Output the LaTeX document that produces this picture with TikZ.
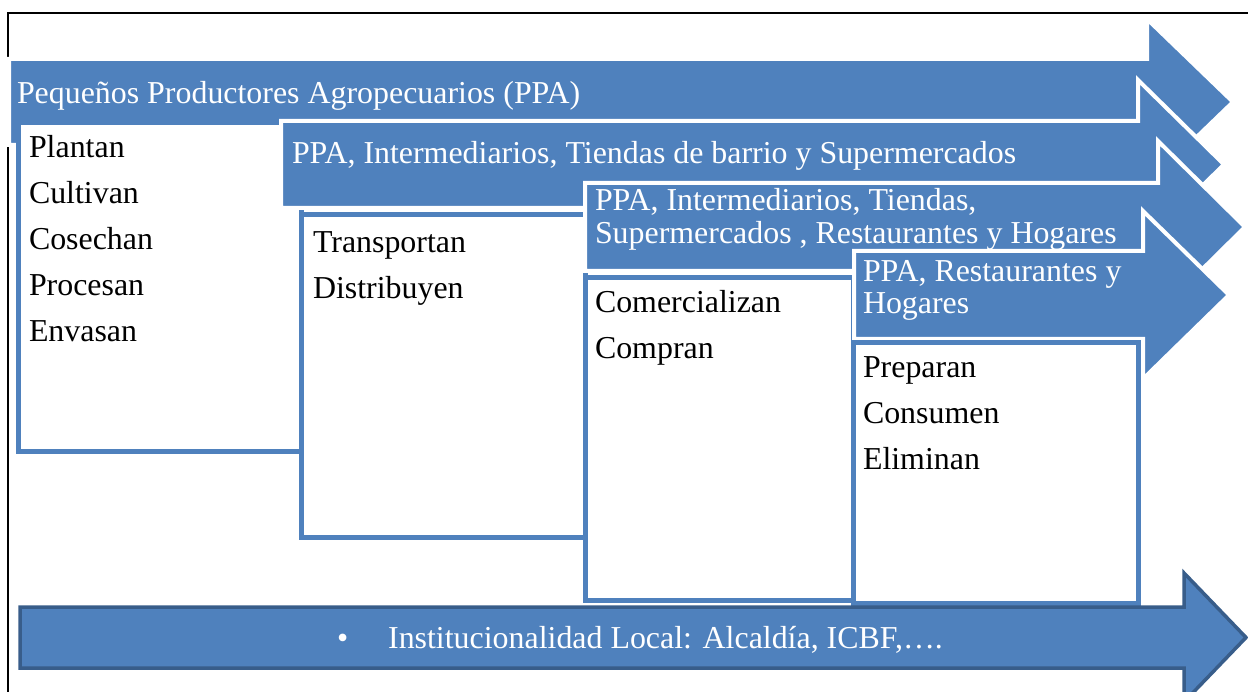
\documentclass[tikz,border=0pt]{standalone}
\usepackage{fontspec}
\setmainfont{Liberation Serif}
\definecolor{ablue}{HTML}{4F81BD}
\definecolor{dblue}{HTML}{385D8A}
\begin{document}
\begin{tikzpicture}[x=1pt,y=-1pt,
  arrowshape/.style={fill=ablue, draw=white, line width=4pt, line join=miter},
  boxshape/.style={fill=white, draw=ablue, line width=5pt},
  bigarrow/.style={fill=ablue, draw=dblue, line width=3.5pt, line join=miter},
  lbl/.style={anchor=base west, inner sep=0pt, outer sep=0pt, font=\fontsize{31.9}{33}\selectfont},
  wlbl/.style={lbl, text=white},
  blbl/.style={lbl, text=black},
]
\clip (0,0) rectangle (1248,692);
\fill[white] (0,0) rectangle (1248,692);
\draw[black, line width=2pt] (7.5,13.5) rectangle (1300,760);

% step 1
\path[arrowshape] (9,59) -- (1147,59) -- (1147,19) -- (1233,102) -- (1147,185) -- (1147,145) -- (9,145) -- cycle;
\node[wlbl] (h1) at (17,103.5) {Pequeños Productores Agropecuarios (PPA)};
\path[boxshape] (18.5,122.5) rectangle (301,452);
\node[blbl] (a1) at (29,158) {Plantan};
\node[blbl] (a2) at (29,204) {Cultivan};
\node[blbl] (a3) at (29,250) {Cosechan};
\node[blbl] (a4) at (29,296) {Procesan};
\node[blbl] (a5) at (29,342) {Envasan};

% step 2
\path[arrowshape] (281,121) -- (1138,121) -- (1138,80) -- (1224,164.5) -- (1138,249) -- (1138,208) -- (281,208) -- cycle;
\node[wlbl] (h2) at (292,164) {PPA, Intermediarios, Tiendas de barrio y Supermercados};
\path[boxshape] (301.5,214.5) rectangle (585,537.5);
\node[blbl] (b1) at (313,252.5) {Transportan};
\node[blbl] (b2) at (313,298.5) {Distribuyen};

% step 3
\path[arrowshape] (585,183) -- (1158,183) -- (1158,141) -- (1245,227) -- (1158,313) -- (1158,271) -- (585,271) -- cycle;
\node[wlbl] (h3a) at (595,211) {PPA, Intermediarios, Tiendas,};
\node[wlbl] (h3b) at (595,244) {Supermercados , Restaurantes y Hogares};
\path[boxshape] (585,277.5) rectangle (853.5,600);
\node[blbl] (c1) at (595,312.5) {Comercializan};
\node[blbl] (c2) at (595,358.5) {Compran};

% step 4
\path[arrowshape] (854,251) -- (1143,251) -- (1143,211) -- (1229,295) -- (1143,379) -- (1143,339) -- (854,339) -- cycle;
\node[wlbl] (h4a) at (863,282) {PPA, Restaurantes y};
\node[wlbl] (h4b) at (863,314) {Hogares};
\path[boxshape] (853.5,342.5) rectangle (1138.5,603.5);
\node[blbl] (d1) at (863,378) {Preparan};
\node[blbl] (d2) at (863,424) {Consumen};
\node[blbl] (d3) at (863,470) {Eliminan};

% bottom arrow
\path[bigarrow] (20,607) -- (1184,607) -- (1184,573) -- (1246,637.5) -- (1184,702) -- (1184,668) -- (20,668) -- cycle;
\node[wlbl] (inst) at (337,648.5) {\textbullet\hspace{40pt}Institucionalidad Local: Alcaldía, ICBF,….};
\end{tikzpicture}
\end{document}
